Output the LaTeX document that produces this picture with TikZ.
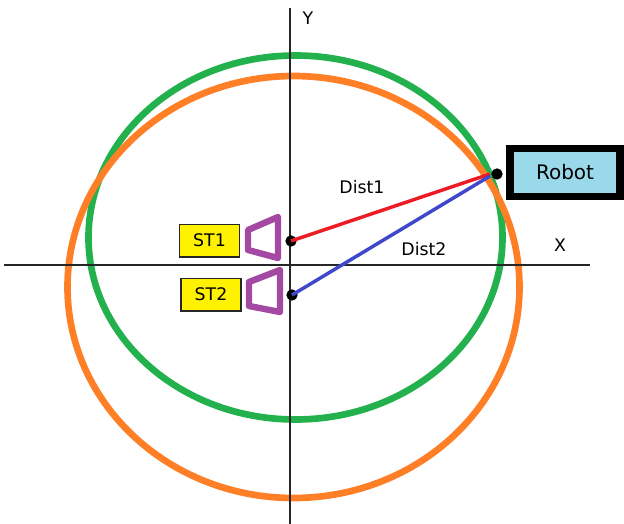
\documentclass[tikz,border=0pt]{standalone}
\usepackage{fontspec}
\setmainfont{DejaVu Sans}
\definecolor{cgreen}{HTML}{22B14C}
\definecolor{corange}{HTML}{FF7F27}
\definecolor{cpurple}{HTML}{A349A4}
\definecolor{cred}{HTML}{ED1C24}
\definecolor{cblue}{HTML}{3F48CC}
\definecolor{cyel}{HTML}{FFF200}
\definecolor{csky}{HTML}{99D9EA}
\tikzset{
  px/.style={x=0.75pt,y=-0.75pt},
  axis/.style={draw=black!85,line width=1.1pt},
  ring/.style={line width=5pt},
  lens/.style={draw=cpurple,line width=4.8pt,line join=round},
  station/.style={draw=black!85,fill=cyel,line width=1pt,minimum width=45pt,minimum height=24.5pt,inner sep=0pt,font=\fontsize{13}{15}\selectfont},
  robotbox/.style={draw=black,fill=csky,line width=5.5pt,minimum width=82.5pt,minimum height=36pt,inner sep=0pt,font=\fontsize{15}{17}\selectfont},
  lab/.style={inner sep=0pt,font=\fontsize{13}{15}\selectfont},
  dotn/.style={circle,fill=black,inner sep=0pt,minimum size=8.5pt},
  link/.style={line width=2.6pt}
}
\begin{document}
\begin{tikzpicture}[px]
\useasboundingbox[fill=white] (0,0) rectangle (624,524);
\draw[ring,draw=cgreen] (295.5,237.5) ellipse [x radius=207,y radius=182];
\draw[ring,draw=corange] (293.5,287) ellipse [x radius=226,y radius=211];
\coordinate (xa) at (4,265);
\coordinate (xb) at (590,265);
\coordinate (ya) at (290,8);
\coordinate (yb) at (290,524);
\draw[axis] (xa) -- (xb);
\draw[axis] (ya) -- (yb);
\node[dotn] (s1) at (291,241) {};
\node[dotn] (s2) at (292,295) {};
\node[dotn] (r) at (497,174) {};
\coordinate (rr) at (490,174);
\coordinate (rb) at (490,176);
\draw[link,draw=cred] (s1.center) -- (rr);
\draw[link,draw=cblue] (s2.center) -- (rb);
\draw[lens] (248,230) -- (278,217) -- (278,258) -- (248,250) -- cycle;
\draw[lens] (249,282) -- (280,270) -- (280,312) -- (249,306) -- cycle;
\node[station] (st1) at (209.5,240.5) {ST1};
\node[station] (st2) at (211,294.5) {ST2};
\node[robotbox] (robot) at (565,172.5) {Robot};
\node[lab] (ly) at (308,18) {Y};
\node[lab] (lx) at (560,245) {X};
\node[lab] (d1) at (362,187) {Dist1};
\node[lab] (d2) at (424,249) {Dist2};
\end{tikzpicture}
\end{document}
